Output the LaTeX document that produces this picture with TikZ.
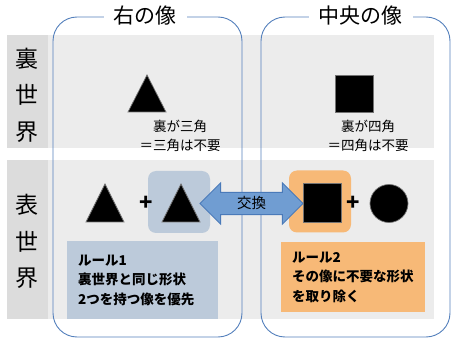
\documentclass[tikz,border=0pt]{standalone}
\usepackage{fontspec}
\setmainfont{Noto Sans CJK JP}
\usetikzlibrary{positioning, shapes.arrows}

\definecolor{bandgray}{RGB}{236,236,236}
\definecolor{sidegray}{RGB}{220,220,220}
\definecolor{frameblue}{RGB}{84,128,188}
\definecolor{hlblue}{RGB}{188,202,218}
\definecolor{hlorange}{RGB}{247,185,119}
\definecolor{arrowfill}{RGB}{112,157,210}
\definecolor{arrowline}{RGB}{74,122,185}

\begin{document}
\begin{tikzpicture}[
    x=1pt, y=-1pt,
    band/.style={fill=bandgray},
    side/.style={fill=sidegray},
    rowlab/.style={align=center, font=\fontsize{23}{36.5}\selectfont},
    colframe/.style={draw=frameblue, line width=0.9pt, rounded corners=24pt},
    coltitle/.style={fill=white, inner xsep=10pt, inner ysep=1pt, font=\fontsize{21}{24}\selectfont},
    hlbox/.style={rectangle, rounded corners=8pt, minimum width=62pt, minimum height=62pt},
    rulebox/.style={rectangle, align=left, inner xsep=11pt, anchor=north west,
      font=\bfseries\fontsize{13.5}{19.5}\selectfont},
    note/.style={align=center, font=\fontsize{13.5}{19}\selectfont},
    shp/.style={fill=black, draw=black!55, line width=0.7pt},
    plus/.style={font=\bfseries\fontsize{22}{22}\selectfont},
    swaparrow/.style={double arrow, fill=arrowfill, draw=arrowline, line width=0.8pt,
      minimum height=103pt, minimum width=41pt, double arrow head extend=9.5pt,
      inner sep=4pt, font=\fontsize{14.5}{16}\selectfont}
  ]
    \useasboundingbox (0,0) rectangle (459,345);

    \fill[band] (7,35) rectangle (434,148);
    \fill[band] (7,160) rectangle (434,319);
    \fill[side] (7,35) rectangle (48,148);
    \fill[side] (7,160) rectangle (48,319);
    \node[rowlab] (ura) at (27.5,95) {裏\\世\\界};
    \node[rowlab] (omote) at (27.5,241.5) {表\\世\\界};

    \draw[colframe] (53,17) rectangle (242,337);
    \draw[colframe] (261,17) rectangle (450,337);
    \node[coltitle] (migi) at (145,16) {右の像};
    \node[coltitle] (chuo) at (360.5,16) {中央の像};

    \fill[shp] (128,112) -- (147,75) -- (166,112) -- cycle;
    \node[note] (uraL) at (180,136) {裏が三角\\＝三角は不要};
    \fill[shp] (335,75) rectangle (373,112);
    \node[note] (uraR) at (368,136) {裏が四角\\＝四角は不要};

    \node[hlbox, fill=hlblue] (swapL) at (179,202) {};
    \node[hlbox, fill=hlorange] (swapR) at (320,201.5) {};
    \fill[shp] (86,222) -- (105,184) -- (124,222) -- cycle;
    \node[plus] (plusL) at (146,203) {+};
    \fill[shp] (162,222) -- (181,184) -- (200,222) -- cycle;
    \node[swaparrow] (swap) at (251.5,203.5) {交換};
    \fill[shp] (303,183) rectangle (341,222);
    \node[plus] (plusR) at (353,203) {+};
    \fill[shp] (389,203.5) circle (19);

    \node[rulebox, fill=hlblue, minimum width=151pt, minimum height=78pt, text width=129pt] (rule1) at (67,241)
      {ルール1\\裏世界と同じ形状\\2つを持つ像を優先};
    \node[rulebox, fill=hlorange, minimum width=144pt, minimum height=70pt, text width=122pt] (rule2) at (281,242)
      {ルール2\\その像に不要な形状\\を取り除く};
  \end{tikzpicture}
\end{document}
